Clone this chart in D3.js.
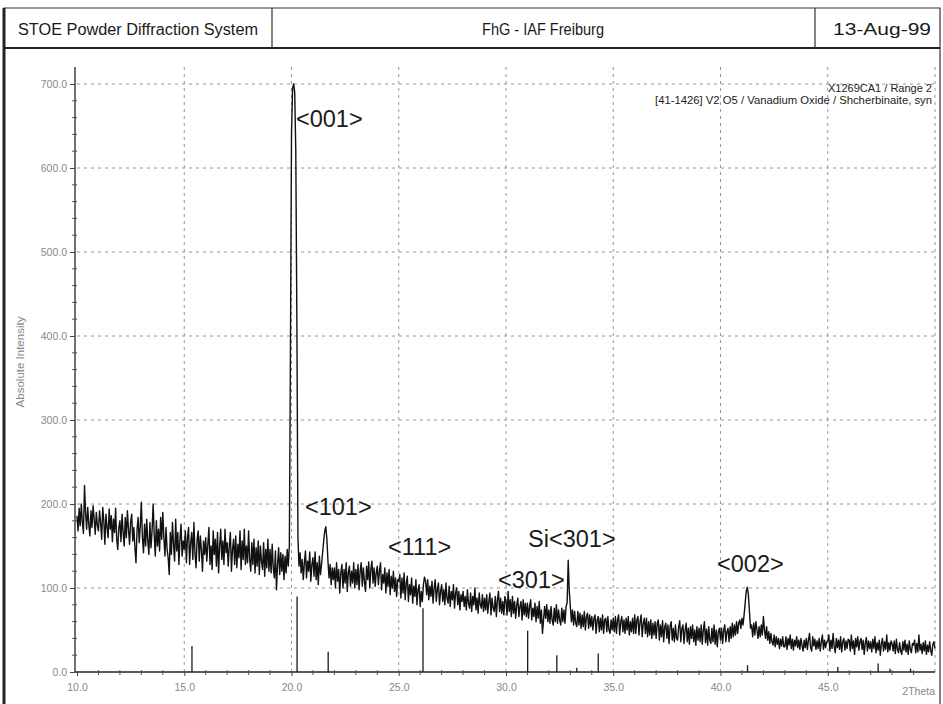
<!DOCTYPE html>
<html>
<head>
<meta charset="utf-8">
<script src="https://cdn.jsdelivr.net/npm/d3@7"></script>
<style>
  html, body { margin: 0; padding: 0; background: #fff; }
  svg { display: block; }
</style>
</head>
<body>
<svg id="chart" width="943" height="704"></svg>
<script>
// ---- data ----
const headerTexts = ["STOE Powder Diffraction System", "FhG - IAF Freiburg", "13-Aug-99"];
const infoLines = ["X1269CA1 / Range 2", "[41-1426] V2 O5 / Vanadium Oxide / Shcherbinaite, syn"];
const yAxisTitle = "Absolute Intensity";
const xAxisTitle = "2Theta";

const yTicks = [0, 100, 200, 300, 400, 500, 600, 700];
const yTickLabels = ["0.0", "100.0", "200.0", "300.0", "400.0", "500.0", "600.0", "700.0"];
const xTicks = [10, 15, 20, 25, 30, 35, 40, 45];
const xTickLabels = ["10.0", "15.0", "20.0", "25.0", "30.0", "35.0", "40.0", "45.0"];

// measured scan: 2Theta from 10.00 to 50.00, step 0.05 (one row per degree)
const scanStart = 10.0;
const scanStep = 0.05;
const intensity = [
  186, 168, 195, 174, 200, 178, 165, 222, 190, 170, 196, 176, 162, 192, 172, 198, 182, 164, 190, 175, // 10
  168, 192, 178, 158, 196, 180, 152, 188, 172, 160, 194, 170, 186, 155, 182, 166, 195, 158, 146, 172, // 11
  180, 155, 188, 166, 150, 184, 160, 192, 170, 152, 178, 188, 156, 172, 148, 130, 170, 184, 154, 174, // 12
  202, 160, 142, 176, 150, 182, 156, 140, 178, 148, 168, 200, 164, 138, 180, 150, 170, 144, 184, 158, // 13
  190, 160, 138, 172, 146, 136, 116, 166, 140, 178, 152, 132, 182, 144, 166, 128, 158, 176, 138, 156, // 14
  146, 168, 130, 160, 172, 128, 154, 166, 134, 178, 142, 124, 158, 168, 132, 162, 146, 120, 156, 140, // 15
  160, 132, 152, 172, 128, 150, 122, 168, 140, 158, 126, 166, 118, 150, 170, 134, 156, 128, 170, 142, // 16
  154, 126, 150, 166, 120, 146, 158, 128, 162, 124, 152, 136, 168, 122, 156, 134, 170, 128, 150, 130, // 17
  168, 134, 120, 154, 128, 158, 118, 148, 126, 156, 116, 150, 132, 122, 154, 114, 146, 124, 158, 120, // 18
  146, 118, 152, 124, 112, 144,  98, 128, 148, 116, 142, 120, 140, 110, 138, 118, 146, 126, 150, 380, // 19
  640, 695, 700, 690, 620, 420, 160, 126, 142, 118, 134, 110, 130, 144, 112, 132, 120, 143, 108, 128, // 20
  136, 114, 143, 110, 130, 104, 138, 116, 128, 142, 156, 168, 173, 158, 132, 112, 128, 104, 124, 110, // 21
  124, 100, 130, 108, 122,  94, 118, 128, 100, 122, 106, 130,  96, 118, 126, 102, 120, 106, 130, 100, // 22
  122, 104, 128,  98, 120, 130, 102, 124, 108,  96, 126, 110, 131, 100, 122, 132, 106, 124, 102, 118, // 23
  126, 104, 120, 130,  98, 116, 106, 124,  94, 118, 102, 122,  92, 114, 100, 120,  96, 112,  90, 110, // 24
  108, 116,  88, 112,  94, 118,  86, 106, 114,  84, 104,  92, 112,  82, 102,  90, 110,  80,  98, 104, // 25
   78,  96,  84, 104, 113, 108,  92, 110,  86, 102,  90, 108,  82, 100, 110,  84,  98, 106,  80,  96, // 26
  104,  84,  98,  80, 106,  88,  82, 102,  78,  96,  86, 104,  76,  94, 100,  80,  96,  74,  92,  84, // 27
   96,  78,  90,  74,  98,  82,  76,  94,  72,  90,  80, 100,  74,  88,  70,  94,  80,  76,  92,  72, // 28
   88,  74,  92,  70,  84,  94,  68,  88,  76,  72,  90,  66,  86,  96,  72,  88,  70,  84,  68,  90, // 29
   84,  68,  96,  72,  86,  66,  90,  70,  84,  64,  80,  88,  66,  78,  84,  62,  86,  68,  82,  66, // 30
   82,  64,  78,  86,  62,  76,  66,  82,  60,  78,  64,  84,  58,  74,  46,  62,  78,  64,  80,  60, // 31
   74,  58,  78,  62,  56,  76,  60,  80,  58,  74,  62,  56,  76,  60,  74,  58,  78,  82, 133,  96, // 32
   78,  60,  74,  56,  72,  58,  54,  72,  56,  70,  52,  68,  54,  72,  50,  66,  70,  52,  68,  54, // 33
   66,  50,  64,  68,  46,  62,  66,  48,  64,  50,  68,  46,  62,  64,  48,  66,  50,  46,  62,  50, // 34
   64,  48,  66,  46,  62,  68,  44,  60,  66,  48,  62,  46,  64,  50,  66,  44,  60,  48,  64,  46, // 35
   68,  46,  62,  66,  44,  60,  68,  42,  58,  64,  46,  64,  42,  60,  44,  62,  40,  58,  44,  60, // 36
   40,  58,  62,  38,  56,  42,  61,  36,  54,  58,  40,  56,  34,  54,  60,  38,  52,  36,  56,  40, // 37
   38,  54,  61,  36,  52,  56,  34,  50,  58,  36,  52,  33,  54,  40,  56,  36,  50,  32,  54,  38, // 38
   52,  36,  56,  33,  50,  60,  35,  51,  32,  54,  38,  34,  52,  36,  56,  33,  50,  30,  48,  52, // 39
   38,  52,  34,  50,  56,  36,  48,  52,  36,  54,  40,  58,  42,  56,  44,  60,  46,  58,  62,  52, // 40
   64,  56,  68,  82,  96, 101,  92,  72,  52,  56,  42,  58,  44,  60,  50,  40,  54,  42,  56,  44, // 41
   66,  50,  40,  54,  38,  48,  34,  46,  36,  32,  44,  30,  42,  33,  40,  28,  39,  31,  42,  30, // 42
   30,  42,  27,  40,  32,  44,  28,  39,  26,  38,  31,  42,  29,  38,  27,  40,  32,  25,  38,  29, // 43
   40,  27,  38,  46,  29,  25,  42,  31,  39,  27,  37,  28,  40,  25,  36,  44,  27,  38,  29,  36, // 44
   37,  44,  25,  38,  28,  46,  30,  23,  40,  29,  38,  27,  42,  24,  36,  40,  26,  37,  28,  39, // 45
   38,  25,  44,  28,  37,  21,  40,  30,  42,  26,  36,  40,  27,  38,  21,  35,  41,  25,  37,  28, // 46
   36,  24,  39,  28,  42,  23,  35,  26,  38,  20,  34,  40,  25,  36,  27,  44,  24,  35,  26,  37, // 47
   34,  25,  37,  22,  39,  27,  23,  35,  25,  21,  36,  26,  38,  24,  33,  21,  37,  27,  23,  34, // 48
   32,  38,  23,  34,  24,  44,  26,  33,  22,  35,  25,  37,  21,  32,  24,  36,  26,  20,  33,  36, // 49
   28                                                                                                // 50
];

// reference pattern [41-1426] V2O5 stick lines
const stickPositions = [15.36, 20.26, 21.71, 26.13, 31.01, 32.37, 33.30, 34.30, 41.26, 45.47, 47.35, 47.90, 48.86];
const stickHeights   = [31, 90, 24, 76, 49, 20, 5, 22, 8, 6, 10, 4, 4];

// peak annotations (anchor in data units: 2Theta, intensity)
const peakLabels = ["<001>", "<101>", "<111>", "Si<301>", "<301>", "<002>"];
const peakLabelTheta = [20.21, 20.63, 24.5, 31.03, 29.63, 39.84];
const peakLabelInt = [649, 187, 139, 149, 100, 119];

// ---- drawing ----
const svg = d3.select("#chart");
const narrow = "'Liberation Sans Narrow', 'Arial Narrow', 'Liberation Sans', Arial, sans-serif";
const sans = "'Liberation Sans', Arial, sans-serif";

// frame & header
const frame = svg.append("g").attr("fill", "none");
frame.append("path").attr("d", "M4,704V8H940V704")
  .attr("stroke", "#333").attr("stroke-width", 1.2);
frame.append("line").attr("x1", 4).attr("x2", 4).attr("y1", 8).attr("y2", 704)
  .attr("stroke", "#222").attr("stroke-width", 3);
frame.append("line").attr("x1", 4).attr("x2", 940).attr("y1", 48).attr("y2", 48)
  .attr("stroke", "#222").attr("stroke-width", 2);
[272, 815].forEach(xp => frame.append("line").attr("x1", xp).attr("x2", xp).attr("y1", 8).attr("y2", 48)
  .attr("stroke", "#333").attr("stroke-width", 1.2));

const headerCenters = [138, 543, 882];
const headerWidths = [240, 122, 98];
headerTexts.forEach((t, i) => {
  svg.append("text").attr("x", headerCenters[i]).attr("y", 35)
    .attr("text-anchor", "middle").attr("font-family", narrow).attr("font-size", 16)
    .attr("fill", "#1a1a1a").attr("textLength", headerWidths[i]).attr("lengthAdjust", "spacingAndGlyphs")
    .text(t);
});

// scales
const x = d3.scaleLinear().domain([10, 50]).range([77, 935]);
const y = d3.scaleLinear().domain([0, 700]).range([672, 84]);
const plotTop = 67;

// grid
const grid = svg.append("g").attr("stroke", "#8a8a8a").attr("stroke-width", 0.9)
  .attr("stroke-dasharray", "3,4").attr("fill", "none");
yTicks.filter(v => v > 0).forEach(v => {
  grid.append("line").attr("x1", x(10)).attr("x2", x(50)).attr("y1", y(v)).attr("y2", y(v));
});
xTicks.filter(v => v > 10).concat([50]).forEach(v => {
  grid.append("line").attr("x1", x(v)).attr("x2", x(v)).attr("y1", plotTop).attr("y2", y(0));
});

// axes
const yAxisG = svg.append("g").attr("transform", `translate(${x(10) - 2},0)`)
  .call(d3.axisLeft(y).tickValues(yTicks).tickFormat((d, i) => yTickLabels[i]).tickSize(5).tickPadding(3));
yAxisG.select(".domain").attr("d", `M0,${plotTop}V${y(0)}`).attr("stroke", "#222").attr("stroke-width", 1.3);
yAxisG.selectAll(".tick line").attr("stroke", "#444");
yAxisG.selectAll("text").attr("font-family", sans).attr("font-size", 10.5).attr("fill", "#888");
const yMinor = d3.range(0, 701, 20).filter(v => v % 100 !== 0);
yAxisG.selectAll(".minor").data(yMinor).enter().append("line")
  .attr("x1", -3).attr("x2", 2).attr("y1", d => y(d)).attr("y2", d => y(d))
  .attr("stroke", "#555").attr("stroke-width", 1);

const xAxisG = svg.append("g").attr("transform", `translate(0,${y(0)})`)
  .call(d3.axisBottom(x).tickValues(xTicks).tickFormat((d, i) => xTickLabels[i]).tickSize(4).tickPadding(8));
xAxisG.select(".domain").attr("d", `M${x(10) - 2},0H${x(50)}`).attr("stroke", "#222").attr("stroke-width", 1.3);
xAxisG.selectAll(".tick line").attr("stroke", "#444");
xAxisG.selectAll("text").attr("font-family", sans).attr("font-size", 10.5).attr("fill", "#888");
const xMinor = d3.range(11, 50, 1).filter(v => v % 5 !== 0);
xAxisG.selectAll(".minor").data(xMinor).enter().append("line")
  .attr("x1", d => x(d)).attr("x2", d => x(d)).attr("y1", -2).attr("y2", 3)
  .attr("stroke", "#555").attr("stroke-width", 1);
xAxisG.append("text").attr("x", x(50)).attr("y", 23).attr("text-anchor", "end")
  .attr("font-family", sans).attr("font-size", 10.5).attr("fill", "#888").text(xAxisTitle);

// y axis title
svg.append("text").attr("transform", "translate(24,362) rotate(-90)")
  .attr("text-anchor", "middle").attr("font-family", sans).attr("font-size", 11.5)
  .attr("fill", "#888").text(yAxisTitle);

// stick pattern
svg.append("g").selectAll("line").data(stickPositions).enter().append("line")
  .attr("x1", d => x(d)).attr("x2", d => x(d))
  .attr("y1", y(0)).attr("y2", (d, i) => y(stickHeights[i]))
  .attr("stroke", "#1a1a1a").attr("stroke-width", 1.3);

// measured trace
const scan = intensity.map((v, i) => [scanStart + i * scanStep, v]);
svg.append("path").datum(scan)
  .attr("fill", "none").attr("stroke", "#111").attr("stroke-width", 1.4)
  .attr("stroke-linejoin", "round")
  .attr("d", d3.line().x(d => x(d[0])).y(d => y(d[1])));

// info text top right
const infoWidths = [104, 277];
infoLines.forEach((t, i) => {
  svg.append("text").attr("x", 932).attr("y", 92 + i * 12).attr("text-anchor", "end")
    .attr("font-family", narrow).attr("font-size", 11).attr("fill", "#222")
    .attr("textLength", infoWidths[i]).attr("lengthAdjust", "spacingAndGlyphs").text(t);
});

// peak labels
svg.append("g").selectAll("text").data(peakLabels).enter().append("text")
  .attr("x", (d, i) => x(peakLabelTheta[i])).attr("y", (d, i) => y(peakLabelInt[i]))
  .attr("font-family", sans).attr("font-size", 23.5).attr("fill", "#1a1a1a")
  .text(d => d);
</script>
</body>
</html>
